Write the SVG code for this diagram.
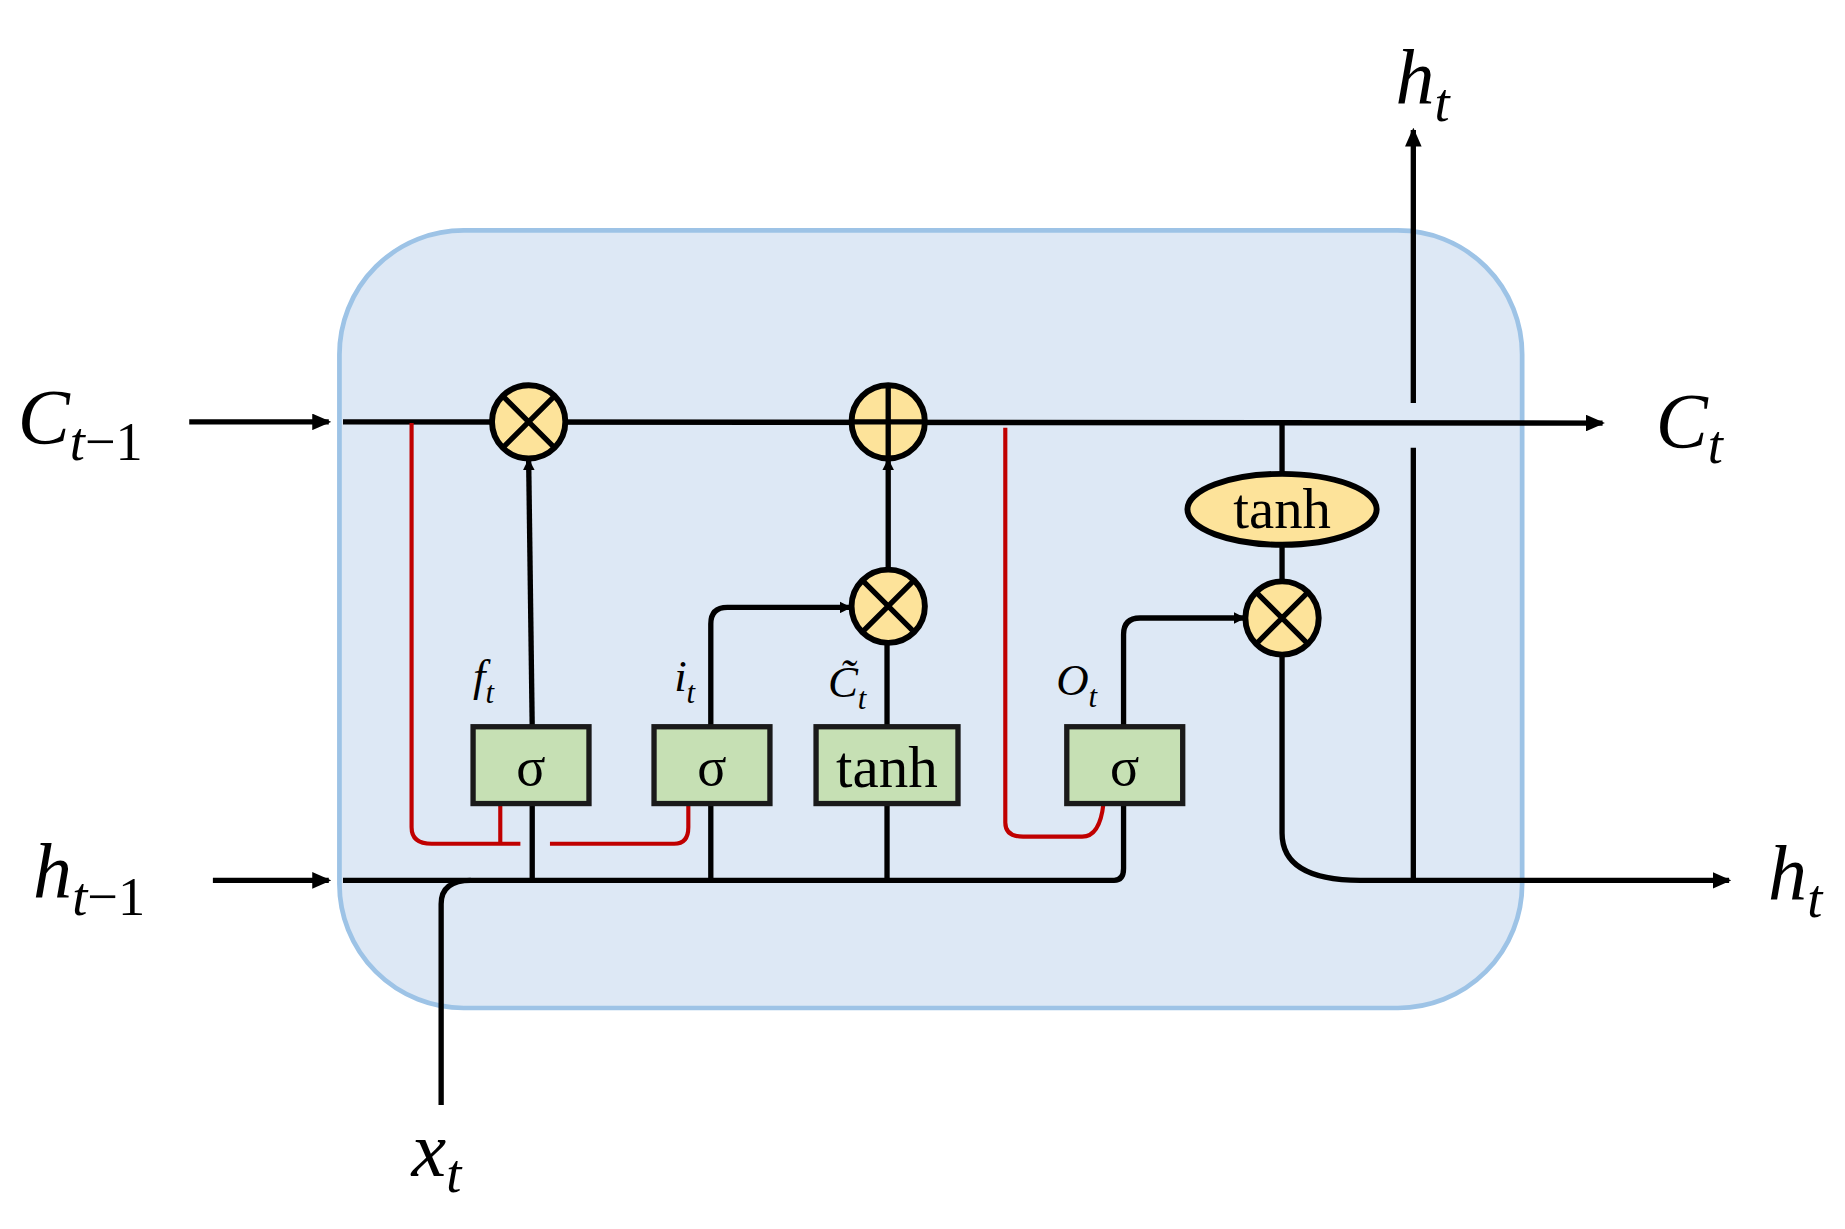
<svg xmlns="http://www.w3.org/2000/svg" width="1845" height="1229" viewBox="0 0 1845 1229">
<defs>
<marker id="ar" markerWidth="10" markerHeight="10" refX="8" refY="5" orient="auto" markerUnits="userSpaceOnUse"><path d="M0,0 L10,5 L0,10 z" fill="#000"/></marker>
<marker id="arB" markerWidth="16" markerHeight="14" refX="14" refY="7" orient="auto" markerUnits="userSpaceOnUse"><path d="M0,0 L16,7 L0,14 z" fill="#000"/></marker>
<style>
.ln{fill:none;stroke:#000;stroke-width:4.5}
.rd{fill:none;stroke:#c00000;stroke-width:3.5}
.op{fill:#fde39a;stroke:#000;stroke-width:5}
.gb{fill:#c6e0b4;stroke:#1a1a1a;stroke-width:4.5}
.t{font-family:"Liberation Serif",serif;fill:#000}
.i{font-family:"Liberation Serif",serif;font-style:italic;fill:#000}
</style>
</defs>
<rect width="1845" height="1229" fill="#fff"/>
<g transform="scale(1.1827,1.1817)">
<g id="cell"><rect x="287" y="195" width="1000" height="658" rx="105" fill="#dde8f5" stroke="#9dc3e6" stroke-width="4"/></g>
<g id="connectors">
<line class="ln" x1="160" y1="357" x2="278" y2="357" marker-end="url(#arB)"/>
<line class="ln" x1="180" y1="745" x2="278" y2="745" marker-end="url(#arB)"/>
<line class="ln" x1="290" y1="357" x2="1355" y2="358" marker-end="url(#arB)"/>
<path class="ln" d="M290,745 H942 Q950,745 950,735 V680"/>
<path class="ln" d="M373,935 V765 Q373,745 398,745"/>
<line class="ln" x1="450" y1="745" x2="450" y2="680"/>
<line class="ln" x1="450" y1="615" x2="447" y2="390" marker-end="url(#ar)"/>
<line class="ln" x1="601" y1="745" x2="601" y2="680"/>
<path class="ln" d="M601,615 V528 Q601,514 615,514 H718" marker-end="url(#ar)"/>
<line class="ln" x1="750" y1="745" x2="750" y2="680"/>
<line class="ln" x1="750" y1="615" x2="750" y2="545"/>
<line class="ln" x1="751" y1="481" x2="751" y2="390" marker-end="url(#ar)"/>
<path class="ln" d="M950,615 V537 Q950,523 964,523 H1051" marker-end="url(#ar)"/>
<line class="ln" x1="1084" y1="358" x2="1084" y2="401"/>
<line class="ln" x1="1084" y1="461" x2="1084" y2="492"/>
<path class="ln" d="M1084,555 V705 Q1084,745 1150,745 H1462" marker-end="url(#arB)"/>
<line class="ln" x1="1195" y1="745" x2="1195" y2="379"/>
<line class="ln" x1="1195" y1="341" x2="1195" y2="110" marker-end="url(#arB)"/>
<path class="rd" d="M348,358 V700 Q348,714 365,714 H440"/>
<line class="rd" x1="423" y1="680" x2="423" y2="714"/>
<path class="rd" d="M465,714 H570 Q582,714 582,700 V680"/>
<path class="rd" d="M850,362 V696 Q850,708 865,708 H915 Q930,708 933,680"/>
</g>
<g id="mul1"><circle class="op" cx="447" cy="357" r="31"/><path class="ln" d="M425,335 L469,379 M469,335 L425,379"/></g>
<g id="add"><circle class="op" cx="751" cy="357" r="31"/><path class="ln" d="M720,357 H782 M751,326 V388"/></g>
<g id="mul2"><circle class="op" cx="751" cy="513" r="31"/><path class="ln" d="M729,491 L773,535 M773,491 L729,535"/></g>
<g id="mul3"><circle class="op" cx="1084" cy="523" r="31"/><path class="ln" d="M1062,501 L1106,545 M1106,501 L1062,545"/></g>
<g id="tanh2"><ellipse class="op" cx="1084" cy="431" rx="80" ry="30"/><text class="t" x="1084" y="447" font-size="48" text-anchor="middle">tanh</text></g>
<g id="sig1"><rect class="gb" x="400" y="615" width="98" height="65"/><text class="t" x="449" y="664" font-size="46" text-anchor="middle">σ</text></g>
<g id="sig2"><rect class="gb" x="553" y="615" width="98" height="65"/><text class="t" x="602" y="664" font-size="46" text-anchor="middle">σ</text></g>
<g id="tanh1"><rect class="gb" x="690" y="615" width="120" height="65"/><text class="t" x="750" y="666" font-size="50" text-anchor="middle">tanh</text></g>
<g id="sig3"><rect class="gb" x="902" y="615" width="98" height="65"/><text class="t" x="951" y="664" font-size="46" text-anchor="middle">σ</text></g>
<g id="labels">
<text class="i" x="400" y="585" font-size="38">f<tspan font-size="26" dy="10">t</tspan></text>
<text class="i" x="570" y="585" font-size="38">i<tspan font-size="26" dy="10">t</tspan></text>
<text class="i" x="700" y="590" font-size="38">C̃<tspan font-size="26" dy="10">t</tspan></text>
<text class="i" x="893" y="588" font-size="38">O<tspan font-size="26" dy="10">t</tspan></text>
<text class="i" x="15" y="375" font-size="66">C<tspan font-size="46" dy="14">t</tspan><tspan font-style="normal" font-size="46">−1</tspan></text>
<text class="i" x="28" y="760" font-size="66">h<tspan font-size="46" dy="14">t</tspan><tspan font-style="normal" font-size="46">−1</tspan></text>
<text class="i" x="1400" y="378" font-size="66">C<tspan font-size="46" dy="14">t</tspan></text>
<text class="i" x="1495" y="762" font-size="66">h<tspan font-size="46" dy="14">t</tspan></text>
<text class="i" x="1180" y="88" font-size="66">h<tspan font-size="46" dy="14">t</tspan></text>
<text class="i" x="348" y="995" font-size="66">x<tspan font-size="46" dy="14">t</tspan></text>
</g>
</g>
</svg>
